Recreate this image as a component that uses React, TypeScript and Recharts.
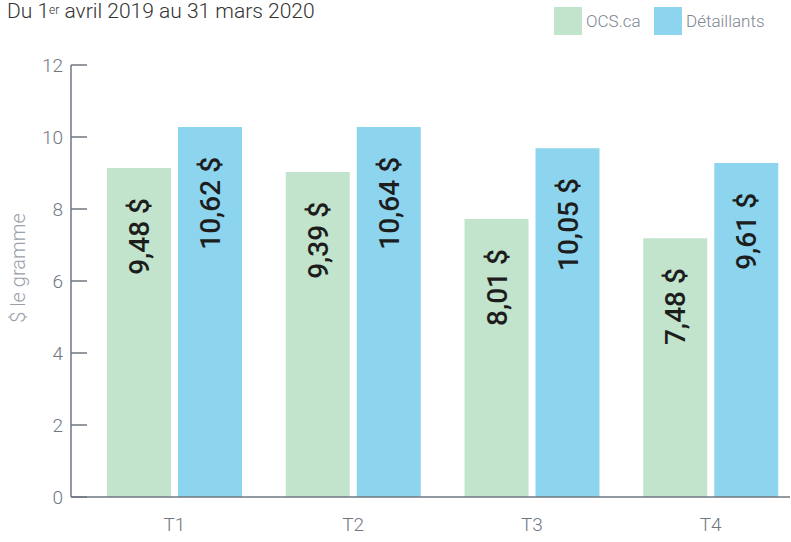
import { BarChart, Bar, XAxis, YAxis, LabelList } from "recharts";

// ---------------------------------------------------------------------------
// Data
// ---------------------------------------------------------------------------

const QUARTERS = ["T1", "T2", "T3", "T4"];
const OCS_VALUES = [9.14, 9.03, 7.72, 7.19];
const DET_VALUES = [10.28, 10.28, 9.69, 9.28];
const OCS_LABELS = ["9,48 $", "9,39 $", "8,01 $", "7,48 $"];
const DET_LABELS = ["10,62 $", "10,64 $", "10,05 $", "9,61 $"];
const Y_TICKS = [0, 2, 4, 6, 8, 10, 12];

const GREEN = "#c2e4cc";
const BLUE = "#8dd5ef";
const AXIS = "#6f7782";
const LIGHT_FONT = "Roboto, 'Open Sans', sans-serif";

const data = QUARTERS.map((q, i) => ({
	q,
	ocs: OCS_VALUES[i],
	det: DET_VALUES[i],
	ocsLabel: OCS_LABELS[i],
	detLabel: DET_LABELS[i],
}));

// ---------------------------------------------------------------------------
// Pieces
// ---------------------------------------------------------------------------

function ValueLabel(props: any) {
	const { x, y, width, value } = props;
	const cx = x + width / 2;
	const top = y + 30;
	return (
		<text
			x={cx}
			y={top}
			dy="0.36em"
			transform={`rotate(-90 ${cx} ${top})`}
			textAnchor="end"
			fontFamily="Roboto, 'Liberation Sans', sans-serif"
			fontWeight={500}
			fontSize={28}
			fill="#1d1d1d"
		>
			{value}
		</text>
	);
}

function LegendBox({ color, label, left }: { color: string; label: string; left: number }) {
	return (
		<div style={{ position: "absolute", left, top: 7, display: "flex", alignItems: "center" }}>
			<div style={{ width: 28, height: 28, background: color }} />
			<span style={{ marginLeft: 4, fontFamily: LIGHT_FONT, fontWeight: 300, fontSize: 17, color: "#7d8590" }}>
				{label}
			</span>
		</div>
	);
}

// ---------------------------------------------------------------------------
// Component
// ---------------------------------------------------------------------------

export default function App() {
	return (
		<div style={{ position: "absolute", left: 0, top: 0, width: 791, height: 542, background: "#fff", overflow: "hidden" }}>
			<div
				style={{
					position: "absolute",
					left: 7,
					top: -1,
					fontFamily: LIGHT_FONT,
					fontWeight: 300,
					fontSize: 21,
					color: "#333",
					whiteSpace: "nowrap",
				}}
			>
				Du 1<sup style={{ fontSize: 12, verticalAlign: "top", lineHeight: "22px" }}>er</sup> avril 2019 au 31 mars 2020
			</div>

			<LegendBox color={GREEN} label="OCS.ca" left={554} />
			<LegendBox color={BLUE} label="Détaillants" left={654} />

			<div
				style={{
					position: "absolute",
					left: 18,
					top: 268,
					transform: "translate(-50%, -50%) rotate(-90deg)",
					fontFamily: LIGHT_FONT,
					fontWeight: 300,
					fontSize: 20,
					color: "#9ba1aa",
					whiteSpace: "nowrap",
				}}
			>
				$ le gramme
			</div>

			<div style={{ position: "absolute", left: 0, top: 0 }}>
				<BarChart
					width={791}
					height={542}
					data={data}
					margin={{ top: 65, right: 1, bottom: 5, left: 0 }}
					barSize={64}
					barGap={7}
				>
					<XAxis
						dataKey="q"
						height={40}
						padding={{ left: 14, right: -10 }}
						tickLine={false}
						tickSize={0}
						tickMargin={21}
						axisLine={{ stroke: AXIS, strokeWidth: 1.5 }}
						tick={{ fill: AXIS, fontSize: 19, fontFamily: LIGHT_FONT, fontWeight: 300 }}
					/>
					<YAxis
						width={71}
						domain={[0, 12]}
						ticks={Y_TICKS}
						interval={0}
						tickSize={-16}
						tickMargin={24}
						axisLine={{ stroke: AXIS, strokeWidth: 1.5 }}
						tickLine={{ stroke: AXIS, strokeWidth: 1.5 }}
						tick={{ fill: AXIS, fontSize: 19, fontFamily: LIGHT_FONT, fontWeight: 300 }}
					/>
					<Bar dataKey="ocs" fill={GREEN} isAnimationActive={false}>
						<LabelList dataKey="ocsLabel" content={ValueLabel} />
					</Bar>
					<Bar dataKey="det" fill={BLUE} isAnimationActive={false}>
						<LabelList dataKey="detLabel" content={ValueLabel} />
					</Bar>
				</BarChart>
			</div>
		</div>
	);
}
